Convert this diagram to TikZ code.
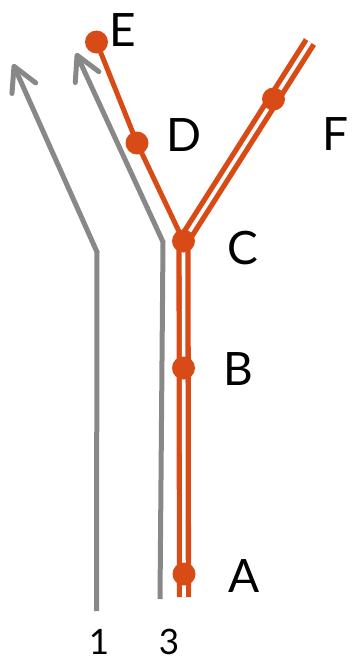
\documentclass[tikz,border=0pt]{standalone}
\usepackage{fontspec}
\setmainfont{Lato}
\usetikzlibrary{arrows.meta}
\definecolor{rust}{RGB}{216,75,22}
\definecolor{lgray}{RGB}{136,136,136}
\begin{document}
\begin{tikzpicture}[x=1pt,y=-1pt,
  grayline/.style={draw=lgray,line width=5pt,line join=miter,
    -{Straight Barb[length=24pt,width=26pt,line join=round,line cap=round]}},
  dbl/.style={draw=rust,line width=5.3pt,double=white,double distance=3.6pt,line join=miter},
  redline/.style={draw=rust,line width=5pt,line join=round},
  dot/.style={circle,fill=rust,inner sep=0pt,minimum size=23pt},
  lbl/.style={font=\fontsize{46}{54}\selectfont,text=black,inner sep=0pt},
  num/.style={font=\fontsize{35}{42}\selectfont,text=black,inner sep=0pt}]
\useasboundingbox (0,0) rectangle (353,662);
% coordinates
\coordinate (g1b) at (96.5,611);
\coordinate (g1m) at (97,252);
\coordinate (g1t) at (13,64);
\coordinate (g3b) at (160,599);
\coordinate (g3m) at (163,242);
\coordinate (g3t) at (76,53);
\coordinate (bot) at (184,597);
\coordinate (a) at (184,574);
\coordinate (b) at (183.5,368);
\coordinate (c) at (183.5,241);
\coordinate (d) at (137,143);
\coordinate (e) at (96.5,42);
\coordinate (f) at (273.5,99);
\coordinate (ftop) at (310,42);
% gray arrows
\draw[grayline] (g1b) -- (g1m) -- (g1t);
\draw[grayline] (g3b) -- (g3m) -- (g3t);
% red lines
\draw[dbl] (bot) -- (c) -- (ftop);
\draw[redline] (c) -- (d) -- (e);
% dots
\node[dot] (A) at (a) {};
\node[dot] (B) at (b) {};
\node[dot] (C) at (c) {};
\node[dot] (D) at (d) {};
\node[dot] (E) at (e) {};
\node[dot] (F) at (f) {};
% labels
\node[lbl] (lA) at (244,576) {A};
\node[lbl] (lB) at (238,369) {B};
\node[lbl] (lC) at (243,248) {C};
\node[lbl] (lD) at (184,135) {D};
\node[lbl] (lE) at (123,30) {E};
\node[lbl] (lF) at (336,134) {F};
\node[num] (n1) at (99,642) {1};
\node[num] (n3) at (169,642) {3};
\end{tikzpicture}
\end{document}
